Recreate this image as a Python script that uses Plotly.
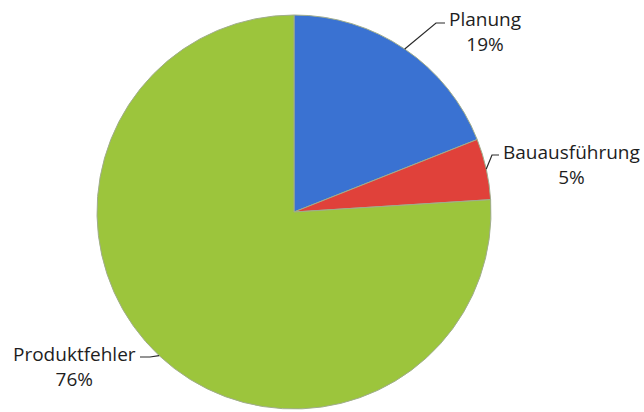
import math
import plotly.graph_objects as go

# Share of defect causes
categories = ["Planung", "Bauausführung", "Produktfehler"]
shares = [19, 5, 76]
colors = ["#3a72d2", "#e0413a", "#9cc53c"]

W, H = 644, 412
# pie placement in pixels
cx, cy, r = 294, 212, 197

fig = go.Figure()
fig.add_trace(go.Pie(
    labels=categories,
    values=shares,
    sort=False,
    direction="clockwise",
    rotation=0,
    textinfo="none",
    hoverinfo="label+percent",
    marker=dict(colors=colors, line=dict(color="#a0ad8c", width=1)),
    domain=dict(x=[(cx - r) / W, (cx + r) / W], y=[(H - cy - r) / H, (H - cy + r) / H]),
    showlegend=False,
))

def px(x):
    return x / W

def py(y):
    return (H - y) / H

# label text anchor (pixel centre of the two-line block) and leader elbow
label_pos = {
    "Planung": dict(tx=485, ty=32, elbow=(436, 23), end=(445, 23)),
    "Bauausführung": dict(tx=571, ty=164, elbow=(492, 155), end=(499, 155)),
    "Produktfehler": dict(tx=74, ty=366, elbow=(150, 357), end=(140, 357)),
}

total = sum(shares)
acc = 0
for name, val in zip(categories, shares):
    mid = (acc + val / 2) / total * 2 * math.pi
    acc += val
    ex = cx + r * math.sin(mid)
    ey = cy - r * math.cos(mid)
    lp = label_pos[name]
    ox, oy = lp["elbow"]
    fx, fy = lp["end"]
    fig.add_shape(type="path",
                  path=f"M {px(ex)} {py(ey)} L {px(ox)} {py(oy)} L {px(fx)} {py(fy)}",
                  xref="paper", yref="paper",
                  line=dict(color="#2a2a2a", width=1.2))
    pct = round(val / total * 100)
    fig.add_annotation(x=px(lp["tx"]), y=py(lp["ty"]), xref="paper", yref="paper",
                       text=f"{name}<br>{pct}%", showarrow=False,
                       xanchor="center", yanchor="middle", align="center",
                       font=dict(family="Open Sans", size=19, color="#1e1e1e"))

fig.update_layout(
    width=W, height=H,
    margin=dict(l=0, r=0, t=0, b=0),
    paper_bgcolor="white",
    plot_bgcolor="white",
)

fig.write_html("out.html")
